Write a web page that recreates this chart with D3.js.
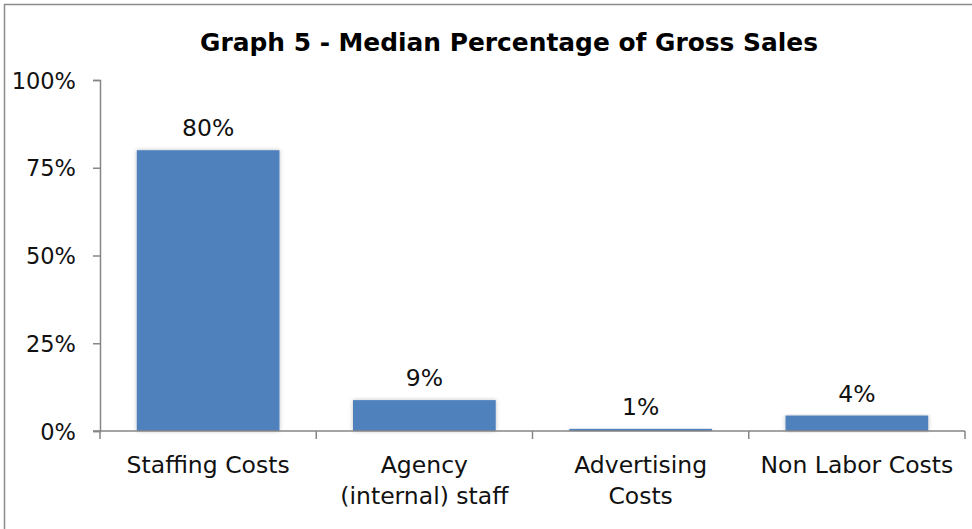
<!DOCTYPE html>
<html><head><meta charset="utf-8">
<script src="https://cdn.jsdelivr.net/npm/d3@7"></script>
<style>body{margin:0;background:#fff}svg{display:block}text{font-family:"DejaVu Sans",sans-serif}</style>
</head><body>
<script>
const categories = [["Staffing Costs"], ["Agency", "(internal) staff"], ["Advertising", "Costs"], ["Non Labor Costs"]];
const values = [0.80, 0.088, 0.006, 0.044];
const yTicks = [0, 0.25, 0.5, 0.75, 1];
const title = "Graph 5 - Median Percentage of Gross Sales";

const W = 972, H = 529;
const m = {left: 100, right: 7, top: 80, bottom: 98};
const svg = d3.select("body").append("svg").attr("width", W).attr("height", H);

const defs = svg.append("defs");
const f = defs.append("filter").attr("id", "sh").attr("x", "-10%").attr("y", "-10%").attr("width", "120%").attr("height", "120%");
f.append("feDropShadow").attr("dx", 0).attr("dy", 0).attr("stdDeviation", 2).attr("flood-color", "#000").attr("flood-opacity", 0.25);

svg.append("rect").attr("x", 4.5).attr("y", 4.5).attr("width", W).attr("height", H)
  .attr("fill", "none").attr("stroke", "#8c8c8c").attr("stroke-width", 1.5);

const fitText = (sel, target) => sel.each(function() {
  const w = this.getComputedTextLength();
  const fs = parseFloat(this.getAttribute("font-size"));
  this.setAttribute("font-size", (fs * target / w).toFixed(2));
});

svg.append("text").attr("x", 509).attr("y", 51).attr("text-anchor", "middle")
  .attr("font-size", 24).attr("font-weight", "bold").attr("fill", "#000").text(title)
  .call(fitText, 618);

const x = d3.scaleBand().domain(categories.map((d, i) => i)).range([m.left, W - m.right]).paddingInner(0.34).paddingOuter(0.17);
const y = d3.scaleLinear().domain([0, 1]).range([H - m.bottom, m.top]);

const axColor = "#868686";
const fs = 23.5;
const txtColor = "#111";
// y axis
const yAxis = svg.append("g").attr("transform", `translate(${m.left},0)`)
  .call(d3.axisLeft(y).tickValues(yTicks).tickFormat(d3.format(".0%")).tickSizeOuter(0).tickSize(7).tickPadding(17));
yAxis.select(".domain").attr("stroke", axColor).attr("stroke-width", 1.5);
yAxis.selectAll(".tick line").attr("stroke", axColor).attr("stroke-width", 1.5);
yAxis.selectAll(".tick text").attr("font-size", 22.5).attr("fill", txtColor).attr("font-family", "DejaVu Sans").attr("dy", "0.36em");

// bars
svg.append("g").selectAll("rect").data(values).join("rect")
  .attr("x", (d, i) => x(i)).attr("width", x.bandwidth())
  .attr("y", d => y(d)).attr("height", d => y(0) - y(d))
  .attr("fill", "#4F81BD").attr("filter", "url(#sh)");

// x axis line and ticks at category boundaries
const step = x.step();
const bounds = d3.range(categories.length + 1).map(i => m.left + i * step);
svg.append("line").attr("x1", m.left - 7).attr("x2", W - m.right).attr("y1", y(0)).attr("y2", y(0))
  .attr("stroke", axColor).attr("stroke-width", 1.5);
svg.append("g").selectAll("line").data(bounds).join("line")
  .attr("x1", d => d).attr("x2", d => d).attr("y1", y(0)).attr("y2", y(0) + 8)
  .attr("stroke", axColor).attr("stroke-width", 1.5);

// category labels
const cl = svg.append("g").selectAll("text").data(categories).join("text")
  .attr("text-anchor", "middle").attr("font-size", fs).attr("fill", txtColor)
  .attr("x", (d, i) => x(i) + x.bandwidth() / 2).attr("y", y(0) + 42);
cl.selectAll("tspan").data(d => d).join("tspan")
  .attr("x", function() { return this.parentNode.getAttribute("x"); })
  .attr("dy", (d, j) => j === 0 ? 0 : 31).text(d => d);

// value labels
svg.append("g").selectAll("text").data(values).join("text")
  .attr("text-anchor", "middle").attr("font-size", fs).attr("fill", txtColor)
  .attr("x", (d, i) => x(i) + x.bandwidth() / 2).attr("y", d => y(d) - 14)
  .text(d => d3.format(".0%")(d));
</script>
</body></html>
